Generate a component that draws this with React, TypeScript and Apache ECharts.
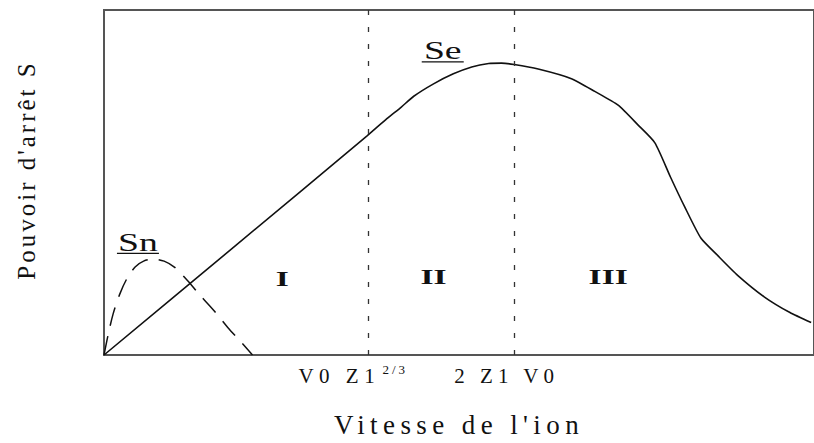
import { useEffect, useRef } from "react";
import * as echarts from "echarts";

// Se : electronic stopping power (solid curve)
const seVelocity = [0, 18.6, 37.2, 40.0, 42.0, 43.8, 46.6, 49.4, 52.0, 54.4, 56.2, 58.0, 61.4, 66.1, 69.4, 72.7, 75.5, 77.9, 80.1, 82.1, 84.4, 86.8, 89.6, 93.4, 97.0, 100];
const seStopping = [0, 31.7, 63.5, 68.5, 71.8, 75.0, 78.6, 81.5, 83.5, 84.5, 84.6, 84.2, 82.9, 80.1, 76.4, 72.4, 66.7, 61.5, 51.6, 43.0, 33.9, 28.8, 23.1, 16.8, 12.3, 9.4];

// Sn : nuclear stopping power (dashed curve)
const snVelocity = [0, 0.6, 1.3, 2.2, 3.2, 4.4, 5.6, 7.0, 8.5, 10.0, 11.8, 13.5, 15.5, 17.5, 19.5, 21.0];
const snStopping = [0, 6, 12, 17.5, 22, 25.5, 27.2, 27.8, 27.2, 25.4, 21.6, 17.5, 13.0, 8.0, 3.5, 0];

// region boundaries (dotted verticals) and their tick labels
const boundaryVelocity = [37.3, 58.0];
const boundaryLabels = ["V0 Z1", "2 Z1 V0"];
const boundarySup = ["2/3", ""];

// region names
const regionNames = ["I", "II", "III"];
const regionVelocity = [25.2, 46.6, 71.3];
const regionStopping = [22.2, 22.5, 22.5];

// curve names
const curveNames = ["Sn", "Se"];
const curveLabelVelocity = [4.8, 47.9];
const curveLabelStopping = [32.8, 88.3];

const xTitle = "Vitesse de l'ion";
const yTitle = "Pouvoir d'arrêt S";

const serif = "Liberation Serif";
const ink = "#111111";

const letterSpacing: Record<string, number> = {
  "Vitesse de l'ion": 5.4,
  "Pouvoir d'arrêt S": 3,
  "V0 Z1": 5.5,
  "2 Z1 V0": 5,
  "2/3": 3,
};

export default function App() {
  const ref = useRef<HTMLDivElement>(null);

  useEffect(() => {
    const el = ref.current;
    if (!el) return;
    const chart = echarts.init(el, null, { renderer: "svg" });

    chart.setOption({
      animation: false,
      backgroundColor: "#ffffff",
      textStyle: { fontFamily: serif },
      grid: {
        left: 104,
        top: 10,
        right: -3,
        bottom: 82,
        show: true,
        borderColor: "#555555",
        borderWidth: 2,
        containLabel: false,
      },
      xAxis: {
        type: "value",
        min: 0,
        max: 100.4,
        name: xTitle,
        nameLocation: "middle",
        nameGap: 56,
        nameTextStyle: { fontFamily: serif, fontSize: 27, color: ink },
        axisLine: { show: false },
        axisTick: { show: false },
        splitLine: { show: false },
        axisLabel: {
          customValues: boundaryVelocity,
          margin: 8,
          color: ink,
          fontFamily: serif,
          fontSize: 21,
          formatter: (v: number) => {
            const i = boundaryVelocity.findIndex((b) => Math.abs(b - v) < 1e-6);
            if (i < 0) return "";
            if (boundarySup[i]) {
              return `{m0|${boundaryLabels[i]}}{sup|${boundarySup[i]}}{s0| }`;
            }
            return `{m1|${boundaryLabels[i]}}{s1| }`;
          },
          rich: {
            m0: { fontFamily: serif, fontSize: 21, lineHeight: 26, width: 85, color: ink },
            sup: { fontFamily: serif, fontSize: 13, lineHeight: 8, width: 27, verticalAlign: "top", color: ink },
            s0: { fontFamily: serif, fontSize: 21, lineHeight: 26, width: 30 },
            m1: { fontFamily: serif, fontSize: 21, lineHeight: 26, width: 103, color: ink },
            s1: { fontFamily: serif, fontSize: 21, lineHeight: 26, width: 15 },
          },
        },
      },
      yAxis: {
        type: "value",
        min: 0,
        max: 100,
        axisLine: { show: false },
        axisTick: { show: false },
        axisLabel: { show: false },
        splitLine: { show: false },
      },
      series: [
        {
          name: "Se",
          type: "line",
          data: seVelocity.map((x, i) => [x, seStopping[i]]),
          symbol: "none",
          smooth: 0.2,
          lineStyle: { color: ink, width: 1.6 },
          markLine: {
            silent: true,
            symbol: ["none", "none"],
            label: { show: false },
            lineStyle: { type: [5, 12], color: "#333333", width: 1.3 },
            data: boundaryVelocity.map((v) => ({ xAxis: v })),
          },
          z: 3,
        },
        {
          name: "Sn",
          type: "line",
          data: snVelocity.map((x, i) => [x, snStopping[i]]),
          symbol: "none",
          smooth: 0.3,
          lineStyle: { color: ink, width: 1.5, type: [19, 11] },
          z: 3,
        },
      ],
    });

    const graphics: any[] = [];
    regionNames.forEach((name, i) => {
      const p = chart.convertToPixel({ gridIndex: 0 }, [regionVelocity[i], regionStopping[i]]) as number[];
      graphics.push({
        type: "text",
        x: p[0],
        y: p[1],
        scaleX: 1.6,
        style: {
          text: name,
          fontFamily: serif,
          fontSize: 21,
          fontWeight: "bold",
          fill: ink,
          textAlign: "center",
          textVerticalAlign: "middle",
          align: "center",
          verticalAlign: "middle",
        },
      });
    });
    curveNames.forEach((name, i) => {
      const p = chart.convertToPixel({ gridIndex: 0 }, [curveLabelVelocity[i], curveLabelStopping[i]]) as number[];
      graphics.push({
        type: "text",
        x: p[0],
        y: p[1],
        scaleX: 1.45,
        style: {
          text: name,
          fontFamily: serif,
          fontSize: 26,
          fill: ink,
          textAlign: "center",
          textVerticalAlign: "middle",
          align: "center",
          verticalAlign: "middle",
        },
      });
      graphics.push({
        type: "line",
        shape: { x1: p[0] - 21, y1: p[1] + 11.5, x2: p[0] + 21, y2: p[1] + 11.5 },
        style: { stroke: ink, lineWidth: 1.3 },
      });
    });
    graphics.push({
      type: "text",
      x: 26,
      y: 170,
      rotation: Math.PI / 2,
      style: {
        text: yTitle,
        fontFamily: serif,
        fontSize: 25,
        fill: ink,
        textAlign: "center",
        textVerticalAlign: "middle",
        align: "center",
        verticalAlign: "middle",
      },
    });
    chart.setOption({ graphic: graphics });
    chart.getZr().flush();

    el.querySelectorAll("text").forEach((t) => {
      const node = t as SVGTextElement;
      node.style.fontFamily = '"Liberation Serif", serif';
      const s = letterSpacing[(t.textContent || "").trim()];
      if (s !== undefined) node.style.letterSpacing = s + "px";
    });

    return () => {
      chart.dispose();
    };
  }, []);

  return (
    <div
      ref={ref}
      style={{ position: "fixed", left: 0, top: 0, width: 814, height: 443, background: "#ffffff" }}
    />
  );
}
